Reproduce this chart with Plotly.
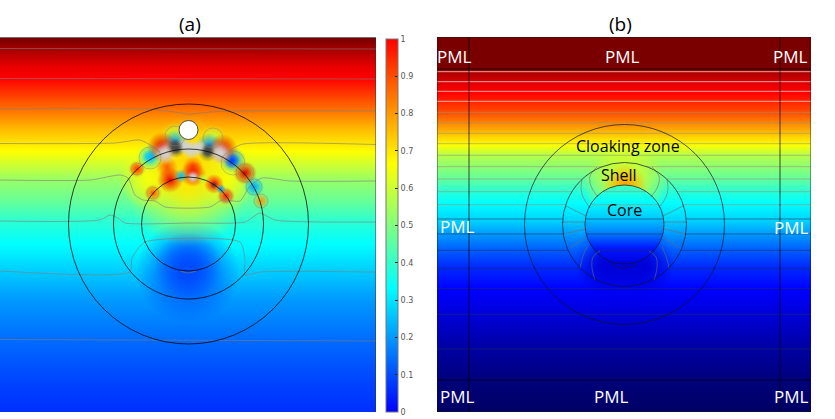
import numpy as np
import plotly.graph_objects as go

W, H = 835, 419
# ---- field (a): vertical background profile
a_y = [37, 50, 67, 78, 95, 110, 130, 143, 150, 165, 180, 200, 221, 245, 270, 300, 340, 380, 412]
a_z = [1.2, 1.12, 1.03, 1.0, 0.92, 0.85, 0.75, 0.70, 0.67, 0.60, 0.53, 0.47, 0.39, 0.33, 0.27, 0.20, 0.14, 0.09, 0.06]
# ---- field (b): vertical background profile
b_y = [37, 68, 72, 78, 85, 92, 112, 122, 133, 144, 155, 166, 179, 192, 204, 219, 234, 250, 268, 289, 314, 349, 380, 412]
b_z = [1.19, 1.19, 1.12, 1.08, 1.03, 1.0, 0.9, 0.83, 0.75, 0.67, 0.57, 0.52, 0.46, 0.38, 0.33, 0.28, 0.2, 0.12, 0.05, 0.0, -0.05, -0.12, -0.17, -0.2]
# ---- core of (b)
core_stops = [0.0, 0.2, 0.4, 0.6, 0.8, 1.0]
core_z = [0.42, 0.34, 0.27, 0.17, 0.03, -0.04]

# ---- local field spots of (a), in drawing order (value -9 light grey, -8 dark grey: out of range)
spot_x = [188, 188, 188, 150, 226, 188,
          175, 213, 150, 233, 137, 254,
          150, 233, 254, 175, 209, 150,
          167, 193,
          162, 223, 170, 193, 214, 245, 153, 226, 261, 137,
          181, 203, 221, 232,
          165, 176, 184, 191, 199, 208, 220, 165, 184, 191, 199, 220, 176, 208, 176, 208, 193, 193, 214]
spot_y = [272, 266, 185, 178, 178, 160,
          135, 138, 157, 162, 169, 187,
          157, 160, 187, 142, 145, 157,
          167, 166,
          147, 149, 180, 174, 184, 173, 193, 196, 201, 169,
          176, 179, 189, 161,
          153, 148, 146, 150, 148, 152, 153, 153, 146, 150, 148, 153, 147, 151, 147, 151, 177, 177, 185]
spot_v = [0.08, 0.10, 0.68, 0.66, 0.66, 0.72,
          0.58, 0.58, 0.58, 0.58, 0.85, 0.45,
          0.28, 0.20, 0.22, 0.20, 0.20, 0.25,
          0.88, 0.88,
          1.05, 1.05, 1.02, 1.02, 1.0, 1.05, 0.88, 0.97, 0.80, 0.90,
          0.25, 0.58, 0.18, 0.08,
          -9, -8, -9, -9, -9, -8, -9, -9, -9, -9, -9, -9, -8, -8, -8, -8, -9, -9, -8]
spot_r = [52, 34, 62, 32, 32, 45,
          13, 13, 16, 15, 9, 12,
          12, 13, 10, 12, 12, 7,
          11, 10,
          15, 15, 13, 13, 10, 12, 9, 9, 8, 7,
          7, 6, 5, 8,
          12, 10, 9, 10, 9, 10, 12, 9, 7, 8, 7, 9, 8, 7, 6, 5, 7, 5, 4]

# ---- closed contour blobs of (a)
ring_x = [150, 175, 213, 233, 245, 254, 137, 153, 226, 261]
ring_y = [158, 136, 138, 163, 173, 187, 169, 193, 196, 201]
ring_r = [11, 10, 10, 12, 9, 8, 6, 6, 6, 7]

# ---- local field spots of (b)
hump_x = [625, 605, 645, 625, 625, 625]
hump_y = [262, 268, 268, 262, 186, 186]
hump_v = [-0.03, -0.05, -0.05, -0.05, 0.67, 0.80]
hump_r = [50, 28, 28, 30, 42, 22]

# ---- contour lines of (a)
c_a = [
    ([0, 376], [48.5, 49]),
    ([0, 376], [78.5, 79]),
    ([0, 150, 175, 190, 210, 235, 376], [109, 109, 112, 114, 112, 111, 111]),
    ([0, 115, 140, 152, 160], [143.5, 143, 140, 146, 152]),
    ([230, 243, 376], [150, 144, 144.5]),
    ([0, 90, 120, 128, 135, 143, 155, 165, 210, 222, 240, 250, 262, 290, 376], [180, 180, 175, 178, 195, 200, 201, 207, 207, 200, 201, 186, 178, 181, 181]),
    ([0, 100, 110, 118, 125, 190, 245, 260, 275, 376], [221, 220, 215, 218, 223, 223, 222, 213, 220, 222]),
    ([0, 130, 132, 145, 240, 245, 245, 260, 376], [271, 272, 258, 242, 242, 260, 275, 272, 272]),
    ([180, 188, 196], [271, 273, 271]),
    ([0, 376], [339.5, 341]),
]
# ---- contour levels of (b)
b_levels_light = [71.7, 81.7, 91.3, 101.3]
b_levels_mid = [112.3, 122.7, 133.3, 143.7, 155.3, 166.7, 179, 191.7, 204.7]
b_levels_dark = [219, 234, 250.3, 268.3, 288.7, 314.3, 349]
# ---- curved contours in the shell of (b), left half
c_b_left = [
    ([566, 586], [206, 216]),
    ([562, 585], [222, 222]),
    ([563, 585], [234, 229]),
    ([570, 586], [248, 237]),
    ([582, 581, 583, 590], [180, 188, 197, 208]),
    ([597, 590, 591, 598], [167, 176, 186, 197]),
    ([580, 583, 587], [268, 256, 247]),
    ([595, 592, 593, 600], [280, 268, 257, 251]),
]
c_b_bottom = ([610, 620, 637], [263, 268, 265])

ticks = [0, 0.1, 0.2, 0.3, 0.4, 0.5, 0.6, 0.7, 0.8, 0.9, 1]
tick_labels = ["0", "0.1", "0.2", "0.3", "0.4", "0.5", "0.6", "0.7", "0.8", "0.9", "1"]

ZMIN, ZMAX = -0.2, 1.2
stops = [(ZMIN, (0, 0, 100)), (0, (0, 0, 255)), (1 / 3, (0, 255, 255)), (2 / 3, (255, 255, 0)), (1, (255, 0, 0)), (ZMAX, (115, 0, 0))]


def rgb(v):
    xs = [s[0] for s in stops]
    return tuple(int(round(np.interp(v, xs, [s[1][i] for s in stops]))) for i in range(3))


def css(v, a=1.0):
    if v <= -8:  # metal-like grey blobs: saturated field is rendered grey
        g = 210 if v == -9 else 70
        return f"rgba({g},{g},{g},{a})"
    r, g, b = rgb(v)
    return f"rgba({r},{g},{b},{a})"


field_scale = [[(z - ZMIN) / (ZMAX - ZMIN), "rgb(%d,%d,%d)" % c] for z, c in stops]
bar_scale = [[0, "rgb(0,0,255)"], [1 / 3, "rgb(0,255,255)"], [2 / 3, "rgb(255,255,0)"], [1, "rgb(255,0,0)"]]

fig = go.Figure()


def spots(xs, ys, vs, rs, xa, ya):
    fig.add_trace(go.Scatter(
        x=xs, y=ys, mode="markers", xaxis=xa, yaxis=ya, showlegend=False, hoverinfo="skip",
        marker=dict(size=[2 * r for r in rs], color=[css(v, 0.0) for v in vs], opacity=1,
                    gradient=dict(type="radial", color=[css(v, 1.0) for v in vs]),
                    line=dict(width=0)),
    ))


# panel (a)
fig.add_trace(go.Heatmap(x=[0, 376], y=a_y, z=[[v, v] for v in a_z], zmin=ZMIN, zmax=ZMAX, colorscale=field_scale,
                         zsmooth="best", showscale=False, xaxis="x", yaxis="y", hoverinfo="skip"))
spots(spot_x, spot_y, spot_v, spot_r, "x", "y")
fig.add_trace(go.Scatter(x=ring_x, y=ring_y, mode="markers", xaxis="x", yaxis="y", showlegend=False, hoverinfo="skip",
                         marker=dict(size=[2 * r for r in ring_r], symbol="circle-open", opacity=1,
                                     color="rgba(130,130,110,0.45)", line=dict(width=1))))
for xs, ys in c_a:
    fig.add_trace(go.Scatter(x=xs, y=ys, mode="lines", xaxis="x", yaxis="y", showlegend=False, hoverinfo="skip",
                             line=dict(color="rgba(125,125,125,0.6)", width=1, shape="spline", smoothing=0.6)))

# panel (b)
fig.add_trace(go.Heatmap(x=[437, 811], y=b_y, z=[[v, v] for v in b_z], zmin=ZMIN, zmax=ZMAX, colorscale=field_scale,
                         zsmooth="best", showscale=False, xaxis="x2", yaxis="y2", hoverinfo="skip"))
spots(hump_x, hump_y, hump_v, hump_r, "x2", "y2")

CB = (624.5, 224.5)
R_OUT, R_SHELL, R_CORE = 100, 62, 39.5
th = np.linspace(0, 2 * np.pi, 181)
fig.add_trace(go.Scatter(
    x=CB[0] + R_CORE * np.cos(th), y=CB[1] + R_CORE * np.sin(th), mode="lines", fill="toself", xaxis="x2", yaxis="y2",
    line=dict(width=0), showlegend=False, hoverinfo="skip",
    fillgradient=dict(type="vertical", start=CB[1] - R_CORE, stop=CB[1] + R_CORE,
                      colorscale=[[s, css(z)] for s, z in zip(core_stops, core_z)]),
))


def level_lines(levels, color, width=1.0):
    xs, ys = [], []
    for y in levels:
        d = abs(y - CB[1])
        if d < R_SHELL:
            sh = np.sqrt(R_SHELL ** 2 - d ** 2)
            if d < R_CORE:
                co = np.sqrt(R_CORE ** 2 - d ** 2)
                xs += [437, CB[0] - sh, None, CB[0] - co, CB[0] + co, None, CB[0] + sh, 811, None]
                ys += [y, y, None, y, y, None, y, y, None]
            else:
                xs += [437, CB[0] - sh, None, CB[0] + sh, 811, None]
                ys += [y, y, None, y, y, None]
        else:
            xs += [437, 811, None]
            ys += [y, y, None]
    fig.add_trace(go.Scatter(x=xs, y=ys, mode="lines", xaxis="x2", yaxis="y2", showlegend=False, hoverinfo="skip",
                             line=dict(color=color, width=width)))


level_lines(b_levels_light, "rgba(255,235,225,0.7)")
level_lines(b_levels_mid, "rgba(150,150,120,0.6)")
level_lines(b_levels_dark, "rgba(30,50,90,0.55)")
for xs, ys in c_b_left:
    fig.add_trace(go.Scatter(x=xs, y=ys, mode="lines", xaxis="x2", yaxis="y2", showlegend=False, hoverinfo="skip",
                             line=dict(color="rgba(110,110,110,0.6)", width=1, shape="spline")))
    fig.add_trace(go.Scatter(x=[2 * CB[0] - v for v in xs], y=ys, mode="lines", xaxis="x2", yaxis="y2", showlegend=False,
                             hoverinfo="skip", line=dict(color="rgba(110,110,110,0.6)", width=1, shape="spline")))
fig.add_trace(go.Scatter(x=c_b_bottom[0], y=c_b_bottom[1], mode="lines", xaxis="x2", yaxis="y2", showlegend=False,
                         hoverinfo="skip", line=dict(color="rgba(20,20,60,0.7)", width=1, shape="spline")))

# colour bar
fig.add_trace(go.Scatter(
    x=[0, 0], y=[500, 500], mode="markers", xaxis="x", yaxis="y", showlegend=False, hoverinfo="skip",
    marker=dict(color=[0, 1], cmin=0, cmax=1, colorscale=bar_scale, size=1, showscale=True,
                colorbar=dict(thickness=12, thicknessmode="pixels", len=373, lenmode="pixels",
                              x=386 / W, xanchor="left", xpad=0, y=1 - 39 / H, yanchor="top", ypad=0,
                              tickvals=ticks, ticktext=tick_labels, ticks="inside", ticklen=3, tickwidth=1,
                              tickcolor="#222", outlinecolor="#777", outlinewidth=1, borderwidth=0,
                              tickfont=dict(family="DejaVu Sans", size=8, color="#555"))),
))


def circ(ref, cx, cy, r, color="rgba(0,0,0,0.75)", fill=None, width=1):
    return dict(type="circle", xref=ref[0], yref=ref[1], x0=cx - r, x1=cx + r, y0=cy - r, y1=cy + r,
                line=dict(color=color, width=width), fillcolor=fill, layer="above")


def seg(ref, x0, y0, x1, y1, color="rgba(0,0,0,0.7)"):
    return dict(type="line", xref=ref[0], yref=ref[1], x0=x0, x1=x1, y0=y0, y1=y1, line=dict(color=color, width=1))


A, B = ("x", "y"), ("x2", "y2")
shapes = [
    circ(A, 188.5, 224, 120), circ(A, 188.5, 224, 75), circ(A, 188.5, 224, 47),
    circ(A, 188.5, 130, 9.5, color="rgba(60,60,60,0.9)", fill="white"),
    seg(A, 376, 37, 376, 412, "rgba(50,50,50,0.9)"), seg(A, 0, 37.5, 376, 37.5, "rgba(120,120,120,0.9)"),
    circ(B, CB[0], CB[1], R_OUT, "rgba(10,20,40,0.7)"), circ(B, CB[0], CB[1], R_SHELL, "rgba(10,20,40,0.7)"),
    circ(B, CB[0], CB[1], R_CORE, "rgba(10,20,40,0.7)"),
    seg(B, 469, 37, 469, 412), seg(B, 780, 37, 780, 412), seg(B, 437, 69, 811, 69), seg(B, 437, 380, 811, 380),
    dict(type="rect", xref="x2", yref="y2", x0=437, x1=811, y0=37, y1=412, line=dict(color="rgba(20,20,20,0.8)", width=1)),
]


def note(text, px, py, size=17, color="white"):
    return dict(text=text, x=px / W, y=1 - py / H, xref="paper", yref="paper", showarrow=False, xanchor="center", yanchor="middle",
                font=dict(family="Open Sans", size=size, color=color))


notes = [note("(a)", 190, 24, 19, "black"), note("(b)", 620, 24, 19, "black")]
for t, x, y in [("PML", 455, 56), ("PML", 622, 56), ("PML", 790, 56), ("PML", 457, 226), ("PML", 791, 227),
                ("PML", 457, 396), ("PML", 611, 396), ("PML", 791, 396)]:
    notes.append(note(t, x, y))
for t, x, y in [("Cloaking zone", 628, 146), ("Shell", 619, 175), ("Core", 624, 210)]:
    notes.append(note(t, x, y, 16, "black"))

axis = dict(showgrid=False, zeroline=False, showticklabels=False, ticks="", showline=False)
fig.update_layout(
    width=W, height=H, autosize=False, margin=dict(l=0, r=0, t=0, b=0), paper_bgcolor="white", plot_bgcolor="white",
    xaxis=dict(domain=[0, 376 / W], range=[0, 376], **axis),
    yaxis=dict(domain=[1 - 412 / H, 1 - 37 / H], range=[412, 37], **axis),
    xaxis2=dict(domain=[437 / W, 811 / W], range=[437, 811], anchor="y2", **axis),
    yaxis2=dict(domain=[1 - 412 / H, 1 - 37 / H], range=[412, 37], anchor="x2", **axis),
    shapes=shapes, annotations=notes, showlegend=False,
)
fig.write_html("out.html", config=dict(displayModeBar=False), post_script="document.body.style.margin='0';document.documentElement.style.overflow='hidden';")
